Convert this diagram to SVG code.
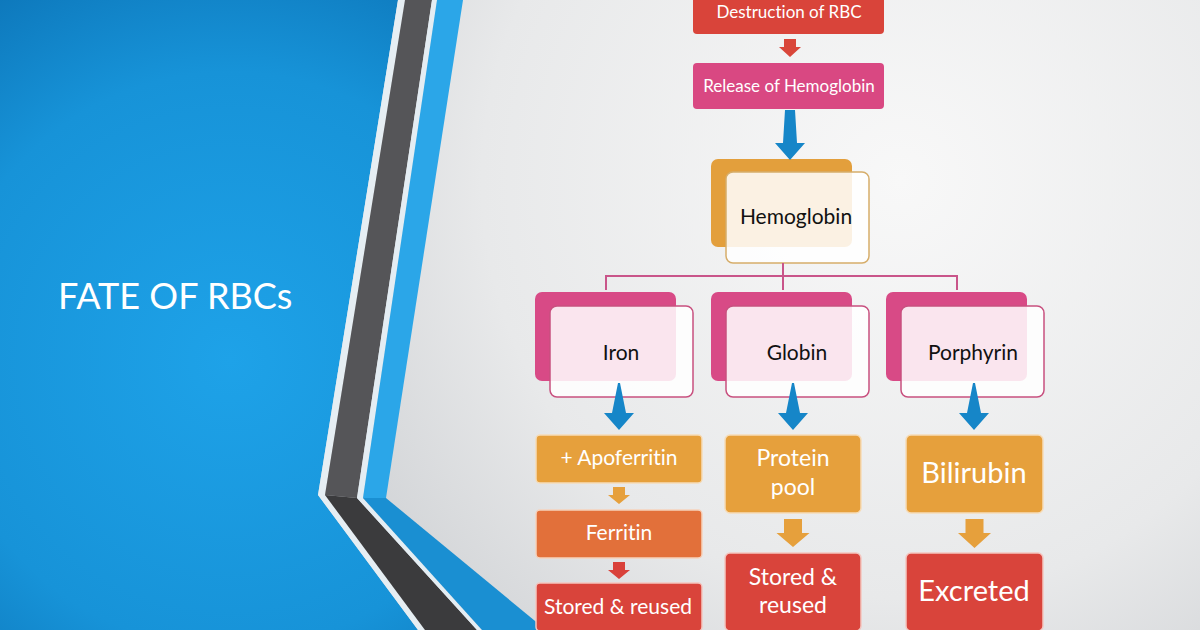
<svg xmlns="http://www.w3.org/2000/svg" width="1200" height="630" viewBox="0 0 1200 630">
  <defs>
    <radialGradient id="bgGray" cx="900" cy="180" r="760" gradientUnits="userSpaceOnUse">
      <stop offset="0" stop-color="#f8f8f8"/>
      <stop offset="0.55" stop-color="#e8e9ea"/>
      <stop offset="1" stop-color="#c4c7cb"/>
    </radialGradient>
    <radialGradient id="bgBlue" cx="230" cy="360" r="480" gradientUnits="userSpaceOnUse">
      <stop offset="0" stop-color="#1ea2e8"/>
      <stop offset="0.6" stop-color="#1793d8"/>
      <stop offset="1" stop-color="#0a6fb2"/>
    </radialGradient>
    <style>
      .t { font-family: Lato, "Open Sans", "Liberation Sans", sans-serif; text-anchor: middle; font-variant-ligatures: none; font-feature-settings: "liga" 0; }
      .w { fill: #ffffff; }
      .k { fill: #111111; }
      .pinkBack { fill: #d84a86; }
      .pinkFront { fill: #ffffff; fill-opacity: 0.86; stroke: #c8507f; stroke-width: 1.5; }
      .orange { fill: #e6a03c; stroke: #f6dcb8; stroke-width: 1.5; }
      .ferr { fill: #e2703a; stroke: #f6d2bc; stroke-width: 1.5; }
      .red { fill: #d9443b; stroke: #f3c6c0; stroke-width: 1.5; }
      .line { stroke: #c9558a; stroke-width: 2; fill: none; }
      .blueArrow { fill: #1686c8; }
    </style>
  </defs>

  <!-- background -->
  <rect x="0" y="0" width="1200" height="630" fill="url(#bgGray)"/>
  <!-- left blue panel and stripes -->
  <polygon points="0,0 398,0 318,495 418,630 0,630" fill="url(#bgBlue)"/>
  <polygon points="398,0 405,0 325,495 425,630 418,630 318,495" fill="#e6eef3"/>
  <polygon points="405,0 432,0 357,498 325,495" fill="#555558"/>
  <polygon points="325,495 357,498 477,630 425,630" fill="#3b3b3d"/>
  <polygon points="432,0 437,0 363,498 357,498" fill="#e4edf3"/>
  <polygon points="357,498 363,498 482,630 477,630" fill="#e4edf3"/>
  <polygon points="437,0 463,0 386,498 363,498" fill="#2ba6e8"/>
  <polygon points="363,498 386,498 546,630 482,630" fill="#1a8fd2"/>

  <text x="58" y="309" class="t w" style="text-anchor:start" font-size="36">FATE OF RBCs</text>

  <g id="node-destruction">
    <rect x="693" y="-10" width="191" height="44" rx="4" fill="#d9443a"/>
    <text x="789" y="18" class="t w" font-size="17">Destruction of RBC</text>
  </g>
  <g id="node-release">
    <rect x="693" y="63" width="191" height="46" rx="4" fill="#d94882"/>
    <text x="789" y="92" class="t w" font-size="17">Release of Hemoglobin</text>
  </g>
  <g id="node-hemoglobin">
    <rect x="711" y="159" width="141" height="88" rx="7" fill="#e39f3c"/>
    <rect x="726" y="172" width="143" height="91" rx="7" fill="#ffffff" fill-opacity="0.86" stroke="#d6ad6a" stroke-width="1.5"/>
    <text x="796" y="224" class="t k" font-size="21">Hemoglobin</text>
  </g>
  <g id="node-iron">
    <rect x="535" y="292" width="141" height="89" rx="7" class="pinkBack"/>
    <rect x="550" y="306" width="143" height="91" rx="7" class="pinkFront"/>
    <text x="621" y="360" class="t k" font-size="21">Iron</text>
  </g>
  <g id="node-globin">
    <rect x="711" y="292" width="141" height="89" rx="7" class="pinkBack"/>
    <rect x="726" y="306" width="143" height="91" rx="7" class="pinkFront"/>
    <text x="797" y="360" class="t k" font-size="21">Globin</text>
  </g>
  <g id="node-porphyrin">
    <rect x="886" y="292" width="141" height="89" rx="7" class="pinkBack"/>
    <rect x="901" y="306" width="143" height="91" rx="7" class="pinkFront"/>
    <text x="973" y="360" class="t k" font-size="21">Porphyrin</text>
  </g>
  <g id="node-apoferritin">
    <rect x="536" y="435" width="166" height="48" rx="4" class="orange"/>
    <text x="619" y="465" class="t w" font-size="21">+ Apoferritin</text>
  </g>
  <g id="node-ferritin">
    <rect x="536" y="510" width="166" height="48" rx="4" class="ferr"/>
    <text x="619" y="540" class="t w" font-size="21">Ferritin</text>
  </g>
  <g id="node-stored1">
    <rect x="536" y="583" width="166" height="48" rx="4" class="red"/>
    <text x="618" y="614" class="t w" font-size="21">Stored &amp; reused</text>
  </g>
  <g id="node-protein">
    <rect x="725" y="435" width="136" height="78" rx="5" class="orange"/>
    <text x="793" y="466" class="t w" font-size="23">Protein</text>
    <text x="793" y="495" class="t w" font-size="23">pool</text>
  </g>
  <g id="node-stored2">
    <rect x="725" y="553" width="136" height="78" rx="5" class="red"/>
    <text x="793" y="585" class="t w" font-size="23">Stored &amp;</text>
    <text x="793" y="613" class="t w" font-size="23">reused</text>
  </g>
  <g id="node-bilirubin">
    <rect x="906" y="435" width="137" height="78" rx="5" class="orange"/>
    <text x="974" y="483" class="t w" font-size="29">Bilirubin</text>
  </g>
  <g id="node-excreted">
    <rect x="906" y="553" width="137" height="78" rx="5" class="red"/>
    <text x="974" y="601" class="t w" font-size="29">Excreted</text>
  </g>

  <g id="connectors">
    <polyline class="line" points="783,263 783,276"/>
    <polyline class="line" points="606,290 606,276 957,276 957,290"/>
    <polyline class="line" points="783,276 783,290"/>
    <polygon points="784,39 796,39 796,47 801,47 790,57 779,47 784,47" fill="#d9463a"/>
    <polygon class="blueArrow" points="785,110 795,110 797,143 805,143 790,160 775,143 783,143"/>
    <polygon class="blueArrow" points="618,383 620,383 626,413 634,413 619,430 604,413 612,413"/>
    <polygon class="blueArrow" points="792,383 794,383 800,413 808,413 793,430 778,413 786,413"/>
    <polygon class="blueArrow" points="973,383 975,383 981,413 989,413 974,430 959,413 967,413"/>
    <polygon points="613,487 625,487 625,495 630,495 619,504 608,495 613,495" fill="#e6a03c"/>
    <polygon points="613,562 625,562 625,570 630,570 619,579 608,570 613,570" fill="#d9413a"/>
    <polygon points="784,519 802,519 802,533 809.5,533 793,547 776.5,533 784,533" fill="#e6a03c"/>
    <polygon points="965.5,519 983.5,519 983.5,533 991,533 974.5,548 958,533 965.5,533" fill="#e6a03c"/>
  </g>
</svg>
